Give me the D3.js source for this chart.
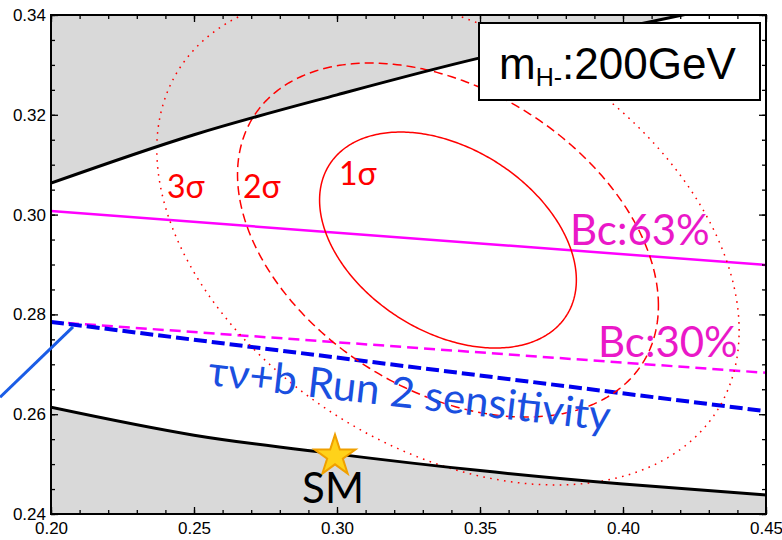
<!DOCTYPE html>
<html><head><meta charset="utf-8">
<script src="https://cdn.jsdelivr.net/npm/d3@7"></script>
<style>body{margin:0;background:#fff;} svg{display:block}</style>
</head><body><svg id="chart" width="782" height="540"></svg>
<script>
// axis ticks
const xTicks = [0.20, 0.25, 0.30, 0.35, 0.40, 0.45];
const yTicks = [0.24, 0.26, 0.28, 0.30, 0.32, 0.34];
// boundaries of the allowed (white) band
const upperX = [0.20, 0.25, 0.30, 0.35, 0.40, 0.425];
const upperY = [0.3063, 0.3160, 0.3240, 0.3314, 0.3375, 0.3405];
const lowerX = [0.20, 0.25, 0.30, 0.35, 0.40, 0.45];
const lowerY = [0.2614, 0.2558, 0.2520, 0.2487, 0.2460, 0.2438];
// straight constraint lines (end points)
const bc63X = [0.20, 0.45], bc63Y = [0.3007, 0.2899];
const bc30X = [0.20, 0.45], bc30Y = [0.2785, 0.2683];
const run2X = [0.20, 0.45], run2Y = [0.2785, 0.2606];
const pointerX = [0.1822, 0.2077], pointerY = [0.2634, 0.2775];
// fit result: centre, widths and correlation
const fitCenter = [0.3388, 0.2949];
const fitSigma = [0.0296, 0.01427];
const fitRho = -0.37;
const sigmaLabels = ["1σ", "2σ", "3σ"];
const deltaChi2 = [2.30, 6.18, 11.83];
const smPoint = [0.30, 0.252];

const svg = d3.select("#chart");
const L = 51, R = 766, T = 15, B = 514;
const x = d3.scaleLinear().domain([0.20, 0.45]).range([L, R]);
const y = d3.scaleLinear().domain([0.24, 0.34]).range([B, T]);

svg.append("defs").append("clipPath").attr("id", "plot")
  .append("rect").attr("x", L).attr("y", T).attr("width", R - L).attr("height", B - T);
const plot = svg.append("g").attr("clip-path", "url(#plot)");

const upper = upperX.map((d, i) => [d, upperY[i]]);
const lower = lowerX.map((d, i) => [d, lowerY[i]]);
const curve = d3.curveMonotoneX;

// excluded regions
plot.append("path").datum(upper)
  .attr("d", d3.area().x(d => x(d[0])).y0(T - 5).y1(d => y(d[1])).curve(curve))
  .attr("fill", "#d9d9d9");
plot.append("path").datum(lower)
  .attr("d", d3.area().x(d => x(d[0])).y0(B + 5).y1(d => y(d[1])).curve(curve))
  .attr("fill", "#d9d9d9");

const line2 = (xs, ys) => d3.line()(xs.map((d, i) => [x(d), y(ys[i])]));

plot.append("path").attr("d", line2(bc63X, bc63Y))
  .attr("stroke", "#ff00ff").attr("stroke-width", 2.5).attr("fill", "none");
plot.append("path").attr("d", line2(bc30X, bc30Y))
  .attr("stroke", "#ff00ff").attr("stroke-width", 2.5).attr("fill", "none")
  .attr("stroke-dasharray", "11,6");
plot.append("path").attr("d", line2(run2X, run2Y))
  .attr("stroke", "#0000ee").attr("stroke-width", 4).attr("fill", "none")
  .attr("stroke-dasharray", "13,5");

// confidence contours
const styles = [null, "9,5", "1.6,5.4"];
deltaChi2.forEach((k, j) => {
  const s = Math.sqrt(k);
  const pts = d3.range(0, 361).map(a => {
    const t = a * Math.PI / 180;
    const u = Math.cos(t), v = Math.sin(t);
    return [x(fitCenter[0] + s * fitSigma[0] * u),
            y(fitCenter[1] + s * fitSigma[1] * (fitRho * u + Math.sqrt(1 - fitRho * fitRho) * v))];
  });
  const p = plot.append("path").attr("d", d3.line()(pts) + "Z")
    .attr("fill", "none").attr("stroke", "#ff0000").attr("stroke-width", 1.5);
  if (styles[j]) p.attr("stroke-dasharray", styles[j]);
});

// boundary curves
[upper, lower].forEach(c => {
  plot.append("path").datum(c)
    .attr("d", d3.line().x(d => x(d[0])).y(d => y(d[1])).curve(curve))
    .attr("fill", "none").attr("stroke", "#000").attr("stroke-width", 3);
});

// axes with inward ticks on all four sides
const fmt = d3.format(".2f");
const xMinor = d3.range(20, 46).map(d => d / 100);
const yMinor = d3.range(48, 69).map(d => d / 200);
function axisGroup(axis, tx, ty) {
  const g = svg.append("g").attr("transform", `translate(${tx},${ty})`).call(axis);
  g.select(".domain").remove();
  g.selectAll(".tick line").attr("stroke", "#000").attr("stroke-width", 1.3);
  g.selectAll("text").attr("font-family", "Liberation Sans, Arial, sans-serif")
    .attr("font-size", 17).attr("fill", "#000");
  return g;
}
axisGroup(d3.axisBottom(x).tickValues(xMinor).tickSize(-4).tickFormat(""), 0, B);
axisGroup(d3.axisTop(x).tickValues(xMinor).tickSize(-4).tickFormat(""), 0, T);
axisGroup(d3.axisLeft(y).tickValues(yMinor).tickSize(-4).tickFormat(""), L, 0);
axisGroup(d3.axisRight(y).tickValues(yMinor).tickSize(-4).tickFormat(""), R, 0);
axisGroup(d3.axisBottom(x).tickValues(xTicks).tickSize(-7).tickPadding(8).tickFormat(fmt), 0, B);
axisGroup(d3.axisTop(x).tickValues(xTicks).tickSize(-7).tickFormat(""), 0, T);
axisGroup(d3.axisLeft(y).tickValues(yTicks).tickSize(-7).tickPadding(5).tickFormat(fmt), L, 0);
axisGroup(d3.axisRight(y).tickValues(yTicks).tickSize(-7).tickFormat(""), R, 0);
svg.append("rect").attr("x", L).attr("y", T).attr("width", R - L).attr("height", B - T)
  .attr("fill", "none").attr("stroke", "#000").attr("stroke-width", 2);

// pointer line toward the sensitivity curve
svg.append("path").attr("d", line2(pointerX, pointerY))
  .attr("stroke", "#1a5ce6").attr("stroke-width", 3).attr("fill", "none");

// contour labels
const calibri = "Lato, Carlito, Calibri, sans-serif";
const sigmaPos = [[339, 185], [243, 198], [167, 198]];
sigmaLabels.forEach((t, i) => {
  svg.append("text").attr("x", sigmaPos[i][0]).attr("y", sigmaPos[i][1])
    .attr("font-family", calibri).attr("font-size", 32).attr("fill", "#ff0000").text(t);
});

svg.append("text").attr("x", 570).attr("y", 245).attr("font-family", calibri)
  .attr("font-size", 42).attr("fill", "#ea18c8").text("Bc:63%");
svg.append("text").attr("x", 598).attr("y", 357).attr("font-family", calibri)
  .attr("font-size", 42).attr("fill", "#ea18c8").text("Bc:30%");

svg.append("text").attr("transform", "translate(207,385) rotate(6.5)")
  .attr("font-family", calibri).attr("font-size", 42).attr("fill", "#1a4fe0")
  .text("τν+b Run 2 sensitivity");

// Standard Model point
const star = d3.symbol().type(d3.symbolStar).size(520);
svg.append("path").attr("d", star())
  .attr("transform", `translate(${x(smPoint[0]) - 2},${y(smPoint[1]) + 2})`)
  .attr("fill", "#ffd21a").attr("stroke", "#f0a000").attr("stroke-width", 2);
svg.append("text").attr("x", 333).attr("y", 503).attr("text-anchor", "middle")
  .attr("font-family", calibri).attr("font-size", 42).attr("fill", "#000").text("SM");

// mass label box
svg.append("rect").attr("x", 479).attr("y", 23).attr("width", 281).attr("height", 77)
  .attr("fill", "#fff").attr("stroke", "#000").attr("stroke-width", 2);
const mt = svg.append("text").attr("x", 499).attr("y", 79)
  .attr("font-family", "Liberation Sans, Arial, sans-serif").attr("font-size", 44).attr("fill", "#000");
mt.append("tspan").text("m");
mt.append("tspan").attr("font-size", 25).attr("dy", 7).text("H-");
mt.append("tspan").attr("dy", -7).text(":200GeV");
</script></body></html>
